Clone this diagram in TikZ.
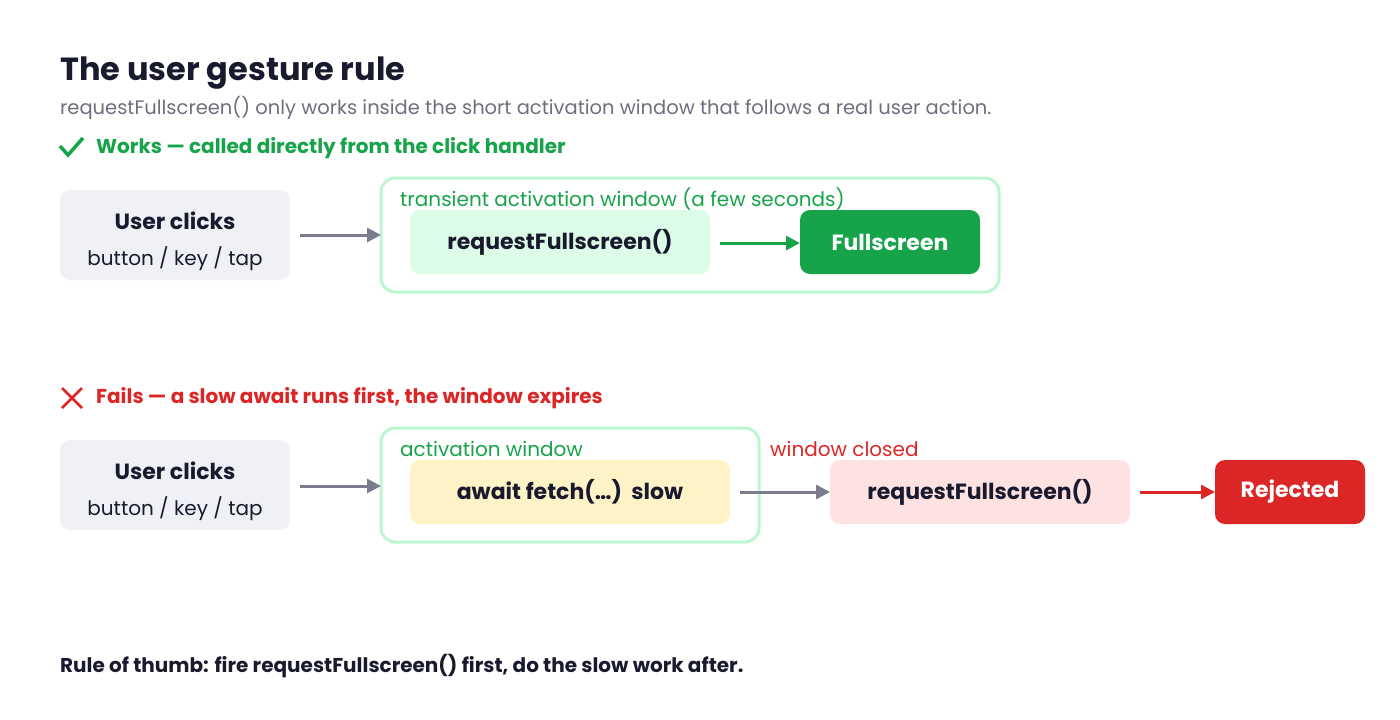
\documentclass[tikz,border=0pt]{standalone}
\usepackage{fontspec}
\setmainfont{Poppins}
\usetikzlibrary{arrows.meta}
\definecolor{ink}{HTML}{1A1A2E}
\definecolor{sub}{HTML}{6E6E80}
\definecolor{gr}{HTML}{16A34A}
\definecolor{rd}{HTML}{DC2626}
\definecolor{wbd}{HTML}{BBF7D0}
\definecolor{gbg}{HTML}{F0F1F6}
\definecolor{lgr}{HTML}{DCFCE7}
\definecolor{lye}{HTML}{FEF3C7}
\definecolor{lrd}{HTML}{FEE2E2}
\definecolor{arr}{HTML}{7B7D8F}
\tikzset{
 box/.style={rounded corners=10pt, inner sep=0pt},
 win/.style={draw=wbd, line width=3pt, rounded corners=14pt},
 con/.style={line width=3pt, -{Triangle[length=14pt,width=14pt]}},
 t/.style={anchor=base west, inner sep=0pt, text=ink},
}
\newcommand{\fs}[1]{\fontsize{#1}{#1}\selectfont}
\begin{document}
\begin{tikzpicture}[x=1pt,y=-1pt]
\useasboundingbox (0,0) rectangle (1400,720);
\node[t,font=\fs{32}\bfseries] (title) at (60,80) {The user gesture rule};
\node[t,text=sub,font=\fs{19.5}] (subt) at (60,114) {requestFullscreen() only works inside the short activation window that follows a real user action.};
% top
\draw[gr,line width=3.5pt] (60,146) -- (68,155) -- (83,138);
\node[t,text=gr,font=\fs{20}\bfseries] (h1) at (96,153) {Works — called directly from the click handler};
\fill[gbg,rounded corners=10pt] (60,190) rectangle (290,280);
\node[font=\fs{22}\bfseries,text=ink] (u1) at (175,221) {User clicks};
\node[font=\fs{20},text=ink] (u1b) at (175,259) {button / key / tap};
\coordinate (u1r) at (300,235);
\draw[win] (381,178) rectangle (999,292);
\node[t,text=gr,font=\fs{20}] (w1) at (400,206) {transient activation window (a few seconds)};
\fill[lgr,rounded corners=10pt] (410,210) rectangle (710,274);
\node[font=\fs{22}\bfseries,text=ink] (r1) at (560,242) {requestFullscreen()};
\fill[gr,rounded corners=10pt] (800,210) rectangle (980,274);
\node[font=\fs{22}\bfseries,text=white] (f1) at (890,242) {Fullscreen};
\coordinate (w1l) at (381,235);
\draw[con,arr] (u1r) -- (w1l);
\coordinate (r1r) at (720,243);\coordinate (f1l) at (800,243);
\draw[con,gr] (r1r) -- (f1l);
% bottom
\draw[rd,line width=2.5pt] (62,388) -- (82,408) (82,388) -- (62,408);
\node[t,text=rd,font=\fs{20}\bfseries] (h2) at (96,403) {Fails — a slow await runs first, the window expires};
\fill[gbg,rounded corners=10pt] (60,440) rectangle (290,530);
\node[font=\fs{22}\bfseries,text=ink] (u2) at (175,471) {User clicks};
\node[font=\fs{20},text=ink] (u2b) at (175,509) {button / key / tap};
\coordinate (u2r) at (300,486);\coordinate (w2l) at (381,486);
\draw[win] (381,428) rectangle (759,542);
\node[t,text=gr,font=\fs{20}] (w2) at (400,456) {activation window};
\fill[lye,rounded corners=10pt] (410,460) rectangle (730,524);
\node[font=\fs{22}\bfseries,text=ink] (a2) at (570,492) {await fetch(…)\ \ slow};
\node[t,text=rd,font=\fs{20}] (wc) at (770,456) {window closed};
\fill[lrd,rounded corners=10pt] (830,460) rectangle (1130,524);
\node[font=\fs{22}\bfseries,text=ink] (r2) at (980,492) {requestFullscreen()};
\fill[rd,rounded corners=10pt] (1215,460) rectangle (1365,524);
\node[font=\fs{22}\bfseries,text=white] (rj) at (1290,492) {Rejected};
\draw[con,arr] (u2r) -- (w2l);
\coordinate (a2r) at (740,492);\coordinate (r2l) at (830,492);
\draw[con,arr] (a2r) -- (r2l);
\coordinate (r2r) at (1140,492);\coordinate (rjl) at (1215,492);
\draw[con,rd] (r2r) -- (rjl);
\node[t,font=\fs{20}\bfseries] (foot) at (60,672) {Rule of thumb: fire requestFullscreen() first, do the slow work after.};
\end{tikzpicture}
\end{document}
